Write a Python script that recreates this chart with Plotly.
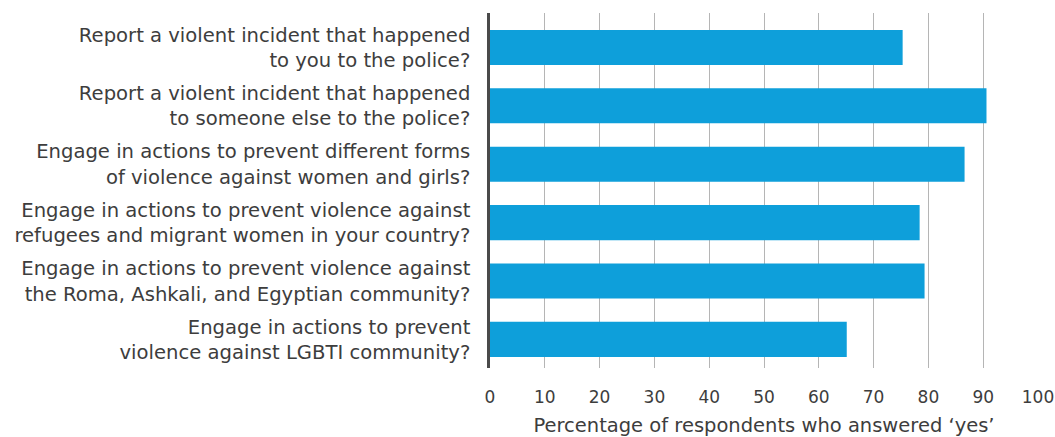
import plotly.graph_objects as go

categories = [
    "Report a violent incident that happened<br>to you to the police?",
    "Report a violent incident that happened<br>to someone else to the police?",
    "Engage in actions to prevent different forms<br>of violence against women and girls?",
    "Engage in actions to prevent violence against<br>refugees and migrant women in your country?",
    "Engage in actions to prevent violence against<br>the Roma, Ashkali, and Egyptian community?",
    "Engage in actions to prevent<br>violence against LGBTI community?",
]
values = [75.3, 90.6, 86.6, 78.4, 79.3, 65.1]
x_ticks = [0, 10, 20, 30, 40, 50, 60, 70, 80, 90, 100]
x_title = "Percentage of respondents who answered ‘yes’"

text_color = "#3d3d3d"
font_family = "DejaVu Sans, Open Sans, sans-serif"

fig = go.Figure(
    go.Bar(
        x=values,
        y=categories,
        orientation="h",
        marker=dict(color="#0E9FDA", line=dict(width=0)),
        width=0.6,
    )
)

fig.update_layout(
    width=1055,
    height=437,
    margin=dict(l=490, r=17, t=13, b=69),
    paper_bgcolor="white",
    plot_bgcolor="white",
    font=dict(family=font_family, size=17, color=text_color),
    showlegend=False,
)

fig.update_xaxes(
    range=[0, 100],
    tickvals=x_ticks,
    showgrid=True,
    gridcolor="#b5b5b5",
    gridwidth=1.2,
    zeroline=False,
    showline=False,
    ticks="",
    automargin=False,
    ticklabelstandoff=17,
    tickfont=dict(size=17, color=text_color),
    title=dict(text=x_title, font=dict(size=19.5, color=text_color), standoff=13),
)

fig.update_yaxes(
    range=[5.49, -0.59],
    showgrid=False,
    showline=True,
    linecolor="#4a4a4a",
    linewidth=2.5,
    ticks="",
    automargin=False,
    ticklabelstandoff=13,
    tickfont=dict(size=19.6, color=text_color),
)

# remove the browser's default 8px page margin so the figure fills the window
fig.write_html(
    "out.html",
    config={"displayModeBar": False},
    post_script="document.body.style.margin='0';document.body.style.overflow='hidden';",
)
